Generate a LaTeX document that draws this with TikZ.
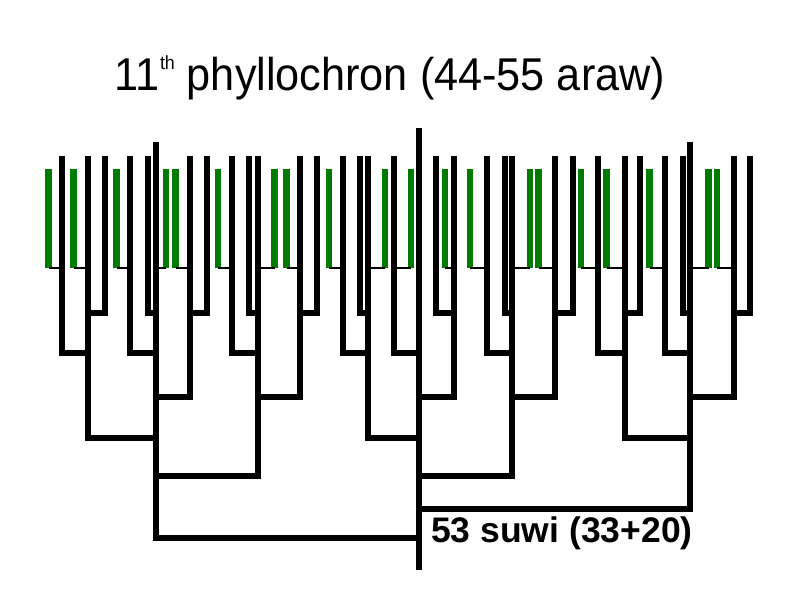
\documentclass[tikz,border=0pt]{standalone}
\usepackage{graphicx}
\usepackage{fontspec}
\setmainfont{Liberation Sans}
\definecolor{leafgreen}{RGB}{0,122,0}
\begin{document}
\begin{tikzpicture}[x=1pt,y=-1pt,
  stem/.style={line width=5.7pt, line join=miter, draw=black},
  twig/.style={line width=2.6pt, draw=black},
  leaf/.style={rectangle, fill=leafgreen, draw=none, minimum width=6.6pt,
    minimum height=99pt, inner sep=0pt, outer sep=0pt}]
\useasboundingbox (0,0) rectangle (794,595);
\fill[white] (0,0) rectangle (794,595);

% stems: name / x / top
\coordinate (sC) at (419,128);
\coordinate (sCend) at (419,570);
\foreach \n/\x/\t in {1/62/156, 2/88/156, 3/105/156, 4/130/156, 5/148/156,
  6/156/142, 7/190/156, 8/207/156, 9/232/156, 10/249/156, 11/258/156,
  12/300/156, 13/317/156, 14/343/156, 15/360/156, 16/368/156, 17/394/156,
  18/436/156, 19/454/156, 20/487/156, 21/505/156, 22/512/156, 23/555/156,
  24/573/156, 25/598/156, 26/625/156, 27/640/156, 28/665/156, 29/683/156,
  30/690/142, 31/734/156, 32/750/156}
  {\coordinate (s\n) at (\x,\t);}

% leaves: name / x / stem they hang on
\foreach \n/\x/\p in {1/48.5/1, 2/73.5/2, 3/116.5/4, 4/166/6, 5/175.5/7,
  6/218/9, 7/274.5/11, 8/286.5/12, 9/329/14, 10/385/16, 11/411/17,
  12/445/19, 13/470/20, 14/530/22, 15/538.5/23, 16/581/25, 17/606.5/26,
  18/649.5/28, 19/708.5/30, 20/717/31}
  {\node[leaf] (g\n) at (\x,218.5) {};
   \draw[twig] (g\n.south) -- (s\p |- g\n.south);}

% stem connections: child / join level / parent
\foreach \n/\b/\p in {1/353/2, 2/438/6, 3/313/2, 4/353/6, 5/313/6,
  6/538/C, 7/397/6, 8/313/7, 9/353/11, 10/313/11, 11/476/6, 12/397/11,
  13/313/12, 14/353/16, 15/313/16, 16/438/C, 17/353/C, 18/313/19,
  19/397/C, 20/353/22, 21/313/22, 22/476/C, 23/397/22, 24/313/23,
  25/353/26, 26/438/30, 27/313/26, 28/353/30, 29/313/30, 30/509/C,
  31/397/30, 32/313/31}
  {\draw[stem] (s\n) |- (s\p |- 0,\b);}
\draw[stem] (sC) -- (sCend);

\node[anchor=base west, inner sep=0pt] (title) at (114,90)
  {\scalebox{0.94}[1]{\fontsize{46}{50}\selectfont 11\hspace{1pt}\raisebox{21pt}{\fontsize{19}{19}\selectfont th} phyllochron (44-55 araw)}};
\node[anchor=base west, inner sep=0pt, font=\bfseries\fontsize{35.5}{38}\selectfont]
  (count) at (431,542) {53 suwi (33+20)};
\end{tikzpicture}
\end{document}
